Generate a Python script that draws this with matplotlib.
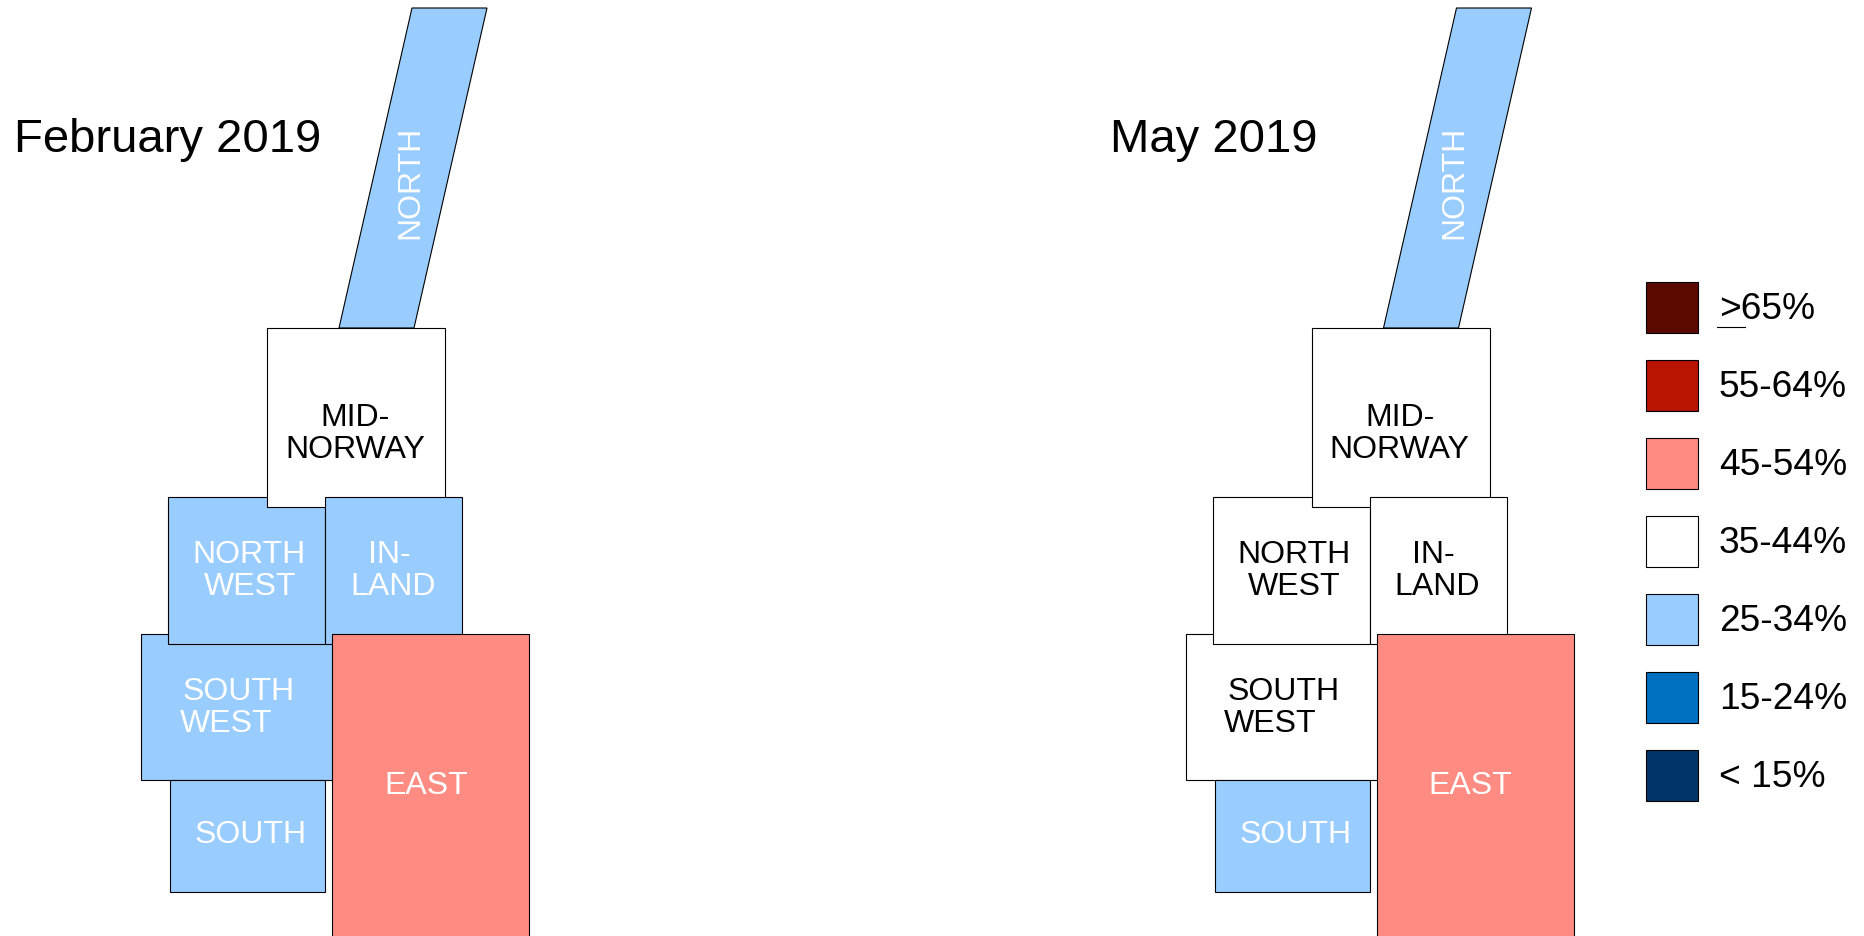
import matplotlib
matplotlib.use('Agg')
import matplotlib.pyplot as plt
from matplotlib.patches import Polygon, Rectangle

plt.rcParams['font.family'] = ['Liberation Sans', 'DejaVu Sans']

# legend bins, top to bottom
bins = ['>65%', '55-64%', '45-54%', '35-44%', '25-34%', '15-24%', '< 15%']
bin_colors = ['#5C0A00', '#B81400', '#FF8C82', '#FFFFFF', '#99CCFF', '#0070C0', '#003366']

# draw order matters here, the boxes overlap
regions = ['NORTH', 'SOUTHWEST', 'SOUTH', 'NORTHWEST', 'MID', 'INLAND', 'EAST']
february = ['25-34%', '25-34%', '25-34%', '25-34%', '35-44%', '25-34%', '45-54%']
may = ['25-34%', '35-44%', '25-34%', '35-44%', '35-44%', '35-44%', '45-54%']

# map outline in pixels of the february panel, y goes down
shapes = {
    'NORTH': [(412, 8), (487, 8), (414, 328), (339, 328)],
    'MID': [(267, 328), (445, 328), (445, 507), (267, 507)],
    'SOUTHWEST': [(141, 634), (340, 634), (340, 780), (141, 780)],
    'SOUTH': [(170, 780), (325, 780), (325, 892), (170, 892)],
    'NORTHWEST': [(168, 497), (325, 497), (325, 644), (168, 644)],
    'INLAND': [(325, 497), (462, 497), (462, 644), (325, 644)],
    'EAST': [(332, 634), (529, 634), (529, 950), (332, 950)],
}
# text per region: line, x centre, baseline
labels = {
    'MID': [('MID-', 355, 425), ('NORWAY', 355, 457)],
    'SOUTHWEST': [('SOUTH', 239, 699), ('WEST', 226, 731)],
    'SOUTH': [('SOUTH', 251, 842)],
    'NORTHWEST': [('NORTH', 249, 562), ('WEST', 250, 594)],
    'INLAND': [('IN-', 389, 562), ('LAND', 393, 594)],
    'EAST': [('EAST', 426, 793)],
}
panel_offset = 1044.5
color_of = dict(zip(bins, bin_colors))

fig = plt.figure(figsize=(18.65, 9.37), dpi=100)
ax = fig.add_axes([0, 0, 1, 1])
ax.set_xlim(0, 1865)
ax.set_ylim(936, -1)
ax.axis('off')


def draw_panel(title, title_x, values, dx):
    ax.text(title_x, 151, title, fontsize=34, color='black', ha='left', va='baseline')
    for i, (name, value) in enumerate(zip(regions, values)):
        pts = [(x + dx, y) for x, y in shapes[name]]
        ax.add_patch(Polygon(pts, closed=True, facecolor=color_of[value], edgecolor='black',
                             linewidth=0.8, zorder=2 + i))
        txt = 'black' if value == '35-44%' else 'white'
        if name == 'NORTH':
            ax.text(418 + dx, 181, 'NORTH', fontsize=23, color=txt, rotation=90, ha='center',
                    va='baseline', rotation_mode='anchor', zorder=20)
            continue
        for line, x, y in labels[name]:
            ax.text(x + dx, y, line, fontsize=23, color=txt, ha='center', va='baseline', zorder=20)


draw_panel('February 2019', 14, february, 0)
draw_panel('May 2019', 1110, may, panel_offset)

# legend
for i, (b, c) in enumerate(zip(bins, bin_colors)):
    top = 282 + i * 78
    ax.add_patch(Rectangle((1646, top), 52, 51, facecolor=c, edgecolor='black', linewidth=0.8))
    ax.text(1719, top + 36, b, fontsize=26.7, color='black', ha='left', va='baseline')
ax.plot([1717, 1745], [327, 327], color='black', linewidth=0.8)

fig.savefig('out.png', dpi=100)
